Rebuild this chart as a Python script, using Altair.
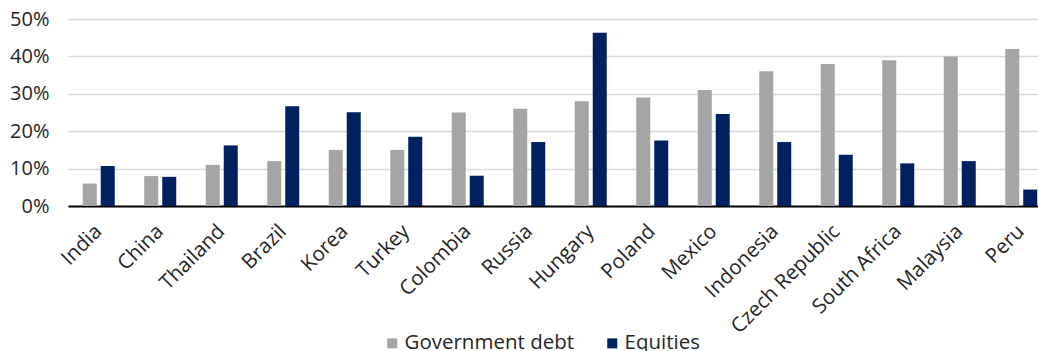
import altair as alt
import pandas as pd

countries = ["India", "China", "Thailand", "Brazil", "Korea", "Turkey", "Colombia", "Russia",
             "Hungary", "Poland", "Mexico", "Indonesia", "Czech Republic", "South Africa",
             "Malaysia", "Peru"]
gov_debt = [6, 8, 11, 12, 15, 15, 25, 26, 28, 29, 31, 36, 38, 39, 40, 42]
equities = [10.7, 7.8, 16.2, 26.7, 25.1, 18.5, 8.1, 17.1, 46.3, 17.5, 24.6, 17.1, 13.7, 11.4, 12.0, 4.4]
series = ["Government debt", "Equities"]
colors = ["#A5A5A5", "#002060"]

rows = []
for c, g, e in zip(countries, gov_debt, equities):
    rows.append({"country": c, "series": series[0], "value": g / 100})
    rows.append({"country": c, "series": series[1], "value": e / 100})
df = pd.DataFrame(rows)

FONT = "Open Sans"
TXT = "#262626"

chart = alt.Chart(df).mark_bar().encode(
    x=alt.X("country:N", sort=countries, title=None,
            scale=alt.Scale(range=[0, 984], paddingInner=0.48, paddingOuter=0.24),
            axis=alt.Axis(labelAngle=-45, labelFontSize=20.5, labelFont=FONT, labelColor=TXT,
                          labelAlign="right", labelBaseline="middle",
                          ticks=False, domainColor="#000000", domainWidth=2, labelPadding=22,
                          grid=False, labelOverlap=False, labelLimit=300)),
    xOffset=alt.XOffset("series:N", sort=series,
                        scale=alt.Scale(paddingInner=0.222, paddingOuter=0)),
    y=alt.Y("value:Q", title=None,
            scale=alt.Scale(domain=[0, 0.5]),
            axis=alt.Axis(format=".0%", values=[0, 0.1, 0.2, 0.3, 0.4, 0.5], labelFontSize=20,
                          labelFont=FONT, labelColor=TXT, domain=False, ticks=False,
                          labelPadding=19, gridColor="#D9D9D9", gridWidth=1.5)),
    color=alt.Color("series:N", sort=series,
                    scale=alt.Scale(domain=series, range=colors),
                    legend=alt.Legend(title=None, orient="none", direction="horizontal",
                                      legendX=314, legendY=314, symbolType="square",
                                      symbolSize=100, symbolStrokeWidth=0,
                                      labelFont=FONT, labelFontSize=20.5, labelColor=TXT,
                                      labelOffset=2, columnPadding=27, labelLimit=300)),
).properties(
    width=970, height=187,
    autosize=alt.AutoSizeParams(type="none"),
    padding={"left": 68, "top": 19, "right": 0, "bottom": 145},
).configure_view(stroke=None)

chart.save("out.html", embed_options={"renderer": "svg", "actions": False})
